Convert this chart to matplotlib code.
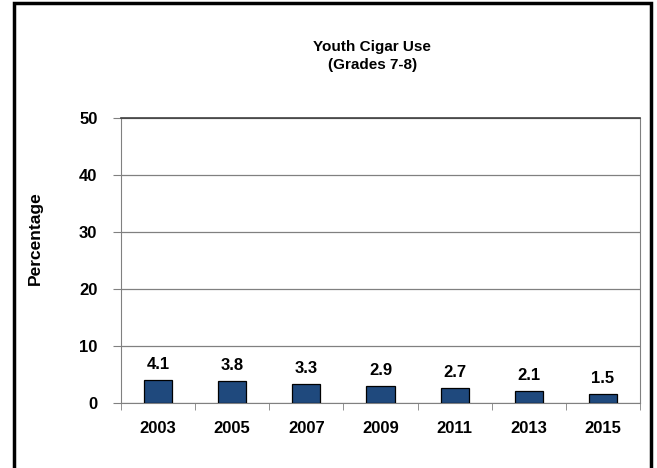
import numpy as np
import matplotlib.pyplot as plt
from matplotlib.patches import Rectangle

years = ['2003', '2005', '2007', '2009', '2011', '2013', '2015']
values = [4.1, 3.8, 3.3, 2.9, 2.7, 2.1, 1.5]
yticks = [0, 10, 20, 30, 40, 50]

plt.rcParams['font.family'] = ['Liberation Sans', 'DejaVu Sans']

fig = plt.figure(figsize=(6.57, 4.68), dpi=100)
ax = fig.add_axes([0.1842, 0.1389, 0.79, 0.609])

x = np.arange(len(years))
bars = ax.bar(x, values, width=0.38, color='#1F497D', edgecolor='black', linewidth=0.9, zorder=3)

for xi, v in zip(x, values):
    ax.text(xi, v + 1.4, '%.1f' % v, ha='center', va='bottom', fontsize=12, fontweight='bold')

ax.set_xlim(-0.5, len(years) - 0.5)
ax.set_ylim(0, 50)
ax.set_yticks(yticks)
ax.set_yticklabels([str(t) for t in yticks], fontsize=12, fontweight='bold')
ax.set_xticks(x)
ax.set_xticklabels(years, fontsize=12, fontweight='bold')
ax.set_xticks(np.arange(len(years) + 1) - 0.5, minor=True)
ax.tick_params(axis='x', which='major', length=0, pad=13)
ax.tick_params(axis='x', which='minor', length=5, color='#808080', direction='out')
ax.tick_params(axis='y', length=6, color='#808080', pad=11)

ax.grid(axis='y', color='#808080', linewidth=0.9, zorder=0)
for s in ['left', 'right', 'bottom']:
    ax.spines[s].set_color('#808080')
ax.spines['top'].set_color('#404040')
ax.spines['top'].set_linewidth(1.2)

fig.text(0.0533, 0.4915, 'Percentage', rotation=90, ha='center', va='center',
         fontsize=12.5, fontweight='bold')
fig.text(0.5665, 0.880, 'Youth Cigar Use\n(Grades 7-8)', ha='center', va='center',
         fontsize=11, fontweight='bold', linespacing=1.4)

fig.patches.append(Rectangle((0.0213, -0.05), 0.9696, 1.0436, transform=fig.transFigure,
                             fill=False, edgecolor='black', linewidth=2.5))

fig.savefig('out.png', dpi=100)
